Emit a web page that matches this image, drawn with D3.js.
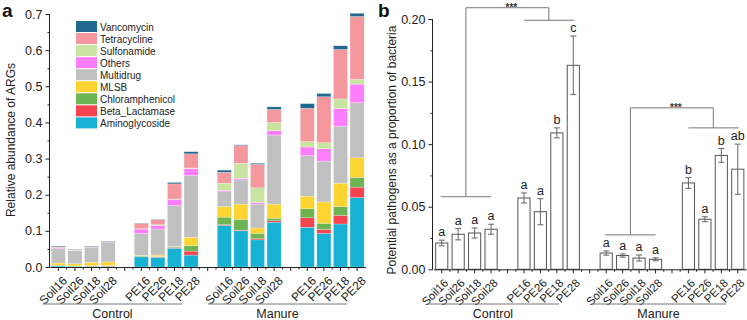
<!DOCTYPE html>
<html>
<head>
<meta charset="utf-8">
<script src="https://cdn.jsdelivr.net/npm/d3@7"></script>
<style>
  body { margin: 0; background: #fff; }
  svg { font-family: "Liberation Sans", Arial, sans-serif; }
</style>
</head>
<body>
<svg id="chart" width="747" height="320"></svg>
<script>

// sample names, same for both groups
var samples = ['Soil16', 'Soil26', 'Soil18', 'Soil28', 'PE16', 'PE26', 'PE18', 'PE28'];
var groups = ['Control', 'Manure'];

// panel a: ARG classes (bottom to top), 16 values = Control x8, Manure x8
var argClasses = ['Aminoglycoside', 'Beta_Lactamase', 'Chloramphenicol', 'MLSB', 'Multidrug',
                  'Others', 'Sulfonamide', 'Tetracycline', 'Vancomycin'];
var argColors = ['#17b1d3', '#f5434f', '#6db452', '#fdd431', '#c0c0c0',
                 '#fd7efd', '#c9e4a1', '#f4989d', '#21698f'];

var aminoglycoside = [0.003, 0.002, 0.002, 0.002, 0.028, 0.027, 0.052, 0.033,
                      0.115, 0.100, 0.075, 0.124, 0.110, 0.093, 0.119, 0.192];
var betaLactamase  = [0.001, 0.000, 0.001, 0.001, 0.001, 0.001, 0.002, 0.011,
                      0.002, 0.002, 0.003, 0.004, 0.026, 0.011, 0.024, 0.029];
var chloramphenicol= [0.001, 0.001, 0.001, 0.001, 0.002, 0.001, 0.002, 0.015,
                      0.021, 0.030, 0.015, 0.007, 0.025, 0.017, 0.024, 0.027];
var mlsb           = [0.006, 0.006, 0.009, 0.010, 0.001, 0.004, 0.001, 0.023,
                      0.029, 0.042, 0.015, 0.039, 0.035, 0.059, 0.065, 0.054];
var multidrug      = [0.040, 0.036, 0.040, 0.055, 0.061, 0.072, 0.113, 0.171,
                      0.041, 0.067, 0.066, 0.191, 0.112, 0.113, 0.158, 0.153];
var others         = [0.002, 0.001, 0.001, 0.001, 0.012, 0.010, 0.017, 0.019,
                      0.003, 0.004, 0.004, 0.012, 0.024, 0.034, 0.048, 0.051];
var sulfonamide    = [0.001, 0.001, 0.000, 0.000, 0.001, 0.002, 0.001, 0.002,
                      0.021, 0.042, 0.041, 0.023, 0.015, 0.017, 0.027, 0.013];
var tetracycline   = [0.002, 0.001, 0.001, 0.001, 0.014, 0.014, 0.042, 0.039,
                      0.030, 0.049, 0.065, 0.036, 0.092, 0.127, 0.137, 0.174];
var vancomycin     = [0.002, 0.001, 0.002, 0.001, 0.001, 0.001, 0.004, 0.006,
                      0.006, 0.002, 0.003, 0.007, 0.013, 0.009, 0.010, 0.009];

var argTicks = [0, 0.1, 0.2, 0.3, 0.4, 0.5, 0.6, 0.7];

// panel b: potential pathogens, mean, error, letter
var pathogenMean = [0.021, 0.028, 0.029, 0.032, 0.057, 0.046, 0.109, 0.163,
                    0.013, 0.011, 0.009, 0.008, 0.069, 0.040, 0.091, 0.080];
var pathogenErr  = [0.0023, 0.0045, 0.004, 0.004, 0.004, 0.0104, 0.004, 0.0234,
                    0.0017, 0.0013, 0.0024, 0.0012, 0.0043, 0.002, 0.0055, 0.020];
var pathogenLetter = ['a', 'a', 'a', 'a', 'a', 'a', 'b', 'c',
                      'a', 'a', 'a', 'a', 'b', 'a', 'b', 'ab'];
var pathogenTicks = [0, 0.05, 0.10, 0.15, 0.20];
// bracket heights: soil line, PE line, top line (per group)
var bracketLevels = [[0.058, 0.199, 0.209], [0.0275, 0.113, 0.129]];


var svg = d3.select('#chart');

// slots: 8 samples, gap, 8 samples, with gaps between Soil and PE
var slots = [];
var sampleSlots = [];
groups.forEach(function (g, gi) {
    samples.forEach(function (s, si) {
        if (si == 4) slots.push('gap' + gi + 'a');
        var id = g + '-' + s;
        slots.push(id);
        sampleSlots.push(id);
    });
    if (gi == 0) slots.push('gap0b');
});

function slotLabel(id) {
    return id.indexOf('gap') == 0 ? '' : id.split('-')[1];
}

var argValues = [aminoglycoside, betaLactamase, chloramphenicol, mlsb, multidrug,
                 others, sulfonamide, tetracycline, vancomycin];
var argTable = sampleSlots.map(function (id, i) {
    var row = {id: id};
    argClasses.forEach(function (k, j) { row[k] = argValues[j][i]; });
    return row;
});

function styleAxis(g) {
    g.selectAll('path, line').attr('stroke', '#222');
    g.selectAll('text').attr('fill', '#222');
}

function rotateLabels(g, tx) {
    g.selectAll('text')
        .attr('text-anchor', 'end')
        .attr('transform', 'translate(' + tx + ',5) rotate(-45)')
        .attr('dy', '0.55em');
}

// small ticks half way between categories
function halfTicks(g, x, y0) {
    var step = x.step();
    var mids = slots.slice(1).map(s => x(s) + x.bandwidth() / 2 - step / 2);
    g.selectAll('line.half').data(mids).enter()
        .append('line').attr('class', 'half')
        .attr('x1', d => d).attr('x2', d => d)
        .attr('y1', y0).attr('y2', y0 + 2.5)
        .attr('stroke', '#222');
}


//********PANEL A********
var xa = d3.scaleBand().domain(slots).range([50, 365.4]).paddingInner(0.15).paddingOuter(0.075);
var ya = d3.scaleLinear().domain([0, 0.7]).range([267, 14]);

var stack = d3.stack().keys(argClasses)(argTable);
var color = d3.scaleOrdinal().domain(argClasses).range(argColors);

var ga = svg.append('g');
ga.selectAll('g.layer').data(stack).enter()
    .append('g').attr('class', 'layer')
    .attr('fill', d => color(d.key))
    .selectAll('rect').data(d => d).enter()
    .append('rect')
    .attr('x', d => xa(d.data.id))
    .attr('width', xa.bandwidth())
    .attr('y', d => ya(d[1]))
    .attr('height', d => Math.max(0, ya(d[0]) - ya(d[1])))
    .attr('stroke', '#fff')
    .attr('stroke-opacity', 0.6)
    .attr('stroke-width', 0.4);

// y axis, minor then major
ga.append('g').attr('transform', 'translate(50,0)')
    .call(d3.axisLeft(ya).tickValues(d3.range(0.05, 0.7, 0.1)).tickSize(2.5).tickFormat(''))
    .call(g => g.select('.domain').remove())
    .call(styleAxis);
ga.append('g').attr('transform', 'translate(50,0)')
    .call(d3.axisLeft(ya).tickValues(argTicks).tickSize(4.5).tickFormat(d3.format('.1f')))
    .attr('font-size', 12.5).attr('font-family', null)
    .call(g => g.select('.domain').attr('d', 'M-0.5,' + ya(0.7) + 'V' + ya(0)))
    .call(styleAxis);

// x axis
ga.append('g').attr('transform', 'translate(0,267)')
    .call(d3.axisBottom(xa).tickSize(4).tickFormat(slotLabel).tickSizeOuter(0))
    .attr('font-size', 12).attr('font-family', null)
    .call(styleAxis)
    .call(rotateLabels, 0);
halfTicks(ga, xa, 267);

// group lines + labels
var groupSpans = [['Control', 43, 182], ['Manure', 208, 347]];
groupSpans.forEach(function (s) {
    ga.append('line').attr('x1', s[1]).attr('x2', s[2]).attr('y1', 304).attr('y2', 304)
        .attr('stroke', '#777').attr('stroke-width', 1);
    ga.append('text').attr('x', (s[1] + s[2]) / 2).attr('y', 318)
        .attr('text-anchor', 'middle').attr('font-size', 12.5).attr('fill', '#222').text(s[0]);
});

ga.append('text').attr('transform', 'translate(15,140) rotate(-90)')
    .attr('text-anchor', 'middle').attr('font-size', 12).attr('fill', '#222')
    .text('Relative abundance of ARGs');
ga.append('text').attr('x', 2).attr('y', 17).attr('font-size', 19).attr('font-weight', 'bold')
    .attr('fill', '#111').text('a');

// legend, top entry first
var legendKeys = argClasses.slice().reverse();
var lg = ga.append('g').attr('transform', 'translate(76,21)');
legendKeys.forEach(function (k, i) {
    lg.append('rect').attr('x', 0).attr('y', i * 12.05).attr('width', 21).attr('height', 11)
        .attr('fill', color(k));
    lg.append('text').attr('x', 24).attr('y', i * 12.05 + 9.5).attr('font-size', 10)
        .attr('fill', '#222').text(k);
});


//********PANEL B********
var xb = d3.scaleBand().domain(slots).range([433.5, 746]).paddingInner(0.2).paddingOuter(0.1);
var yb = d3.scaleLinear().domain([0, 0.2]).range([269.3, 19]);

var gb = svg.append('g');

var bdata = sampleSlots.map(function (id, i) {
    return {id: id, mean: pathogenMean[i], err: pathogenErr[i], letter: pathogenLetter[i]};
});

gb.selectAll('rect.bar').data(bdata).enter()
    .append('rect').attr('class', 'bar')
    .attr('x', d => xb(d.id) + 0.5)
    .attr('width', xb.bandwidth() - 1)
    .attr('y', d => yb(d.mean))
    .attr('height', d => yb(0) - yb(d.mean))
    .attr('fill', '#fff').attr('stroke', '#555').attr('stroke-width', 1);

var eb = gb.selectAll('g.err').data(bdata).enter().append('g').attr('class', 'err')
    .attr('stroke', '#666').attr('stroke-width', 1);
eb.append('line')
    .attr('x1', d => xb(d.id) + xb.bandwidth() / 2).attr('x2', d => xb(d.id) + xb.bandwidth() / 2)
    .attr('y1', d => yb(d.mean + d.err)).attr('y2', d => yb(d.mean - d.err));
[1, -1].forEach(function (sgn) {
    eb.append('line')
        .attr('x1', d => xb(d.id) + xb.bandwidth() / 2 - 3).attr('x2', d => xb(d.id) + xb.bandwidth() / 2 + 3)
        .attr('y1', d => yb(d.mean + sgn * d.err)).attr('y2', d => yb(d.mean + sgn * d.err));
});

gb.selectAll('text.letter').data(bdata).enter()
    .append('text').attr('class', 'letter')
    .attr('x', d => xb(d.id) + xb.bandwidth() / 2)
    .attr('y', d => yb(d.mean + d.err) - 4)
    .attr('text-anchor', 'middle').attr('font-size', 12.5).attr('fill', '#222')
    .text(d => d.letter);

// significance brackets
groups.forEach(function (g, gi) {
    var lv = bracketLevels[gi];
    var c = function (s) { return xb(g + '-' + s) + xb.bandwidth() / 2; };
    var soilL = c('Soil16') - 1, soilR = c('Soil28'), peL = c('PE16'), peR = c('PE28') + 1;
    var soilMid = (soilL + soilR) / 2;
    var peMid = c('PE18') - 8;
    var path = d3.path();
    path.moveTo(soilL, yb(lv[0])); path.lineTo(soilR, yb(lv[0]));
    path.moveTo(soilMid, yb(lv[0])); path.lineTo(soilMid, yb(lv[2]));
    path.lineTo(peMid, yb(lv[2])); path.lineTo(peMid, yb(lv[1]));
    path.moveTo(peL, yb(lv[1])); path.lineTo(peR, yb(lv[1]));
    gb.append('path').attr('d', path.toString()).attr('fill', 'none')
        .attr('stroke', '#777').attr('stroke-width', 1);
    gb.append('text').attr('x', (soilMid + peMid) / 2 + 4).attr('y', yb(lv[2]) + 3)
        .attr('text-anchor', 'middle').attr('font-size', 10).attr('font-weight', 'bold')
        .attr('fill', '#333').text('***');
});

gb.append('g').attr('transform', 'translate(433,0)')
    .call(d3.axisLeft(yb).tickValues([0.025, 0.075, 0.125, 0.175]).tickSize(2.5).tickFormat(''))
    .call(g => g.select('.domain').remove())
    .call(styleAxis);
gb.append('g').attr('transform', 'translate(433,0)')
    .call(d3.axisLeft(yb).tickValues(pathogenTicks).tickSize(4.5).tickFormat(d3.format('.2f')))
    .attr('font-size', 12.5).attr('font-family', null)
    .call(g => g.select('.domain').attr('d', 'M-0.5,' + yb(0.2) + 'V' + yb(0)))
    .call(styleAxis);

gb.append('g').attr('transform', 'translate(0,269.3)')
    .call(d3.axisBottom(xb).tickSize(4).tickFormat(slotLabel).tickSizeOuter(0))
    .attr('font-size', 11.5).attr('font-family', null)
    .call(styleAxis)
    .call(rotateLabels, -2);
halfTicks(gb, xb, 269.3);

var groupSpansB = [['Control', 427, 559], ['Manure', 591, 726]];
groupSpansB.forEach(function (s) {
    gb.append('line').attr('x1', s[1]).attr('x2', s[2]).attr('y1', 304).attr('y2', 304)
        .attr('stroke', '#777').attr('stroke-width', 1);
    gb.append('text').attr('x', (s[1] + s[2]) / 2).attr('y', 318)
        .attr('text-anchor', 'middle').attr('font-size', 12.5).attr('fill', '#222').text(s[0]);
});

gb.append('text').attr('transform', 'translate(396,150) rotate(-90)')
    .attr('text-anchor', 'middle').attr('font-size', 12).attr('fill', '#222')
    .text('Potential pathogens as a proportion of bacteria');
gb.append('text').attr('x', 378).attr('y', 17).attr('font-size', 19).attr('font-weight', 'bold')
    .attr('fill', '#111').text('b');

</script>
</body>
</html>
